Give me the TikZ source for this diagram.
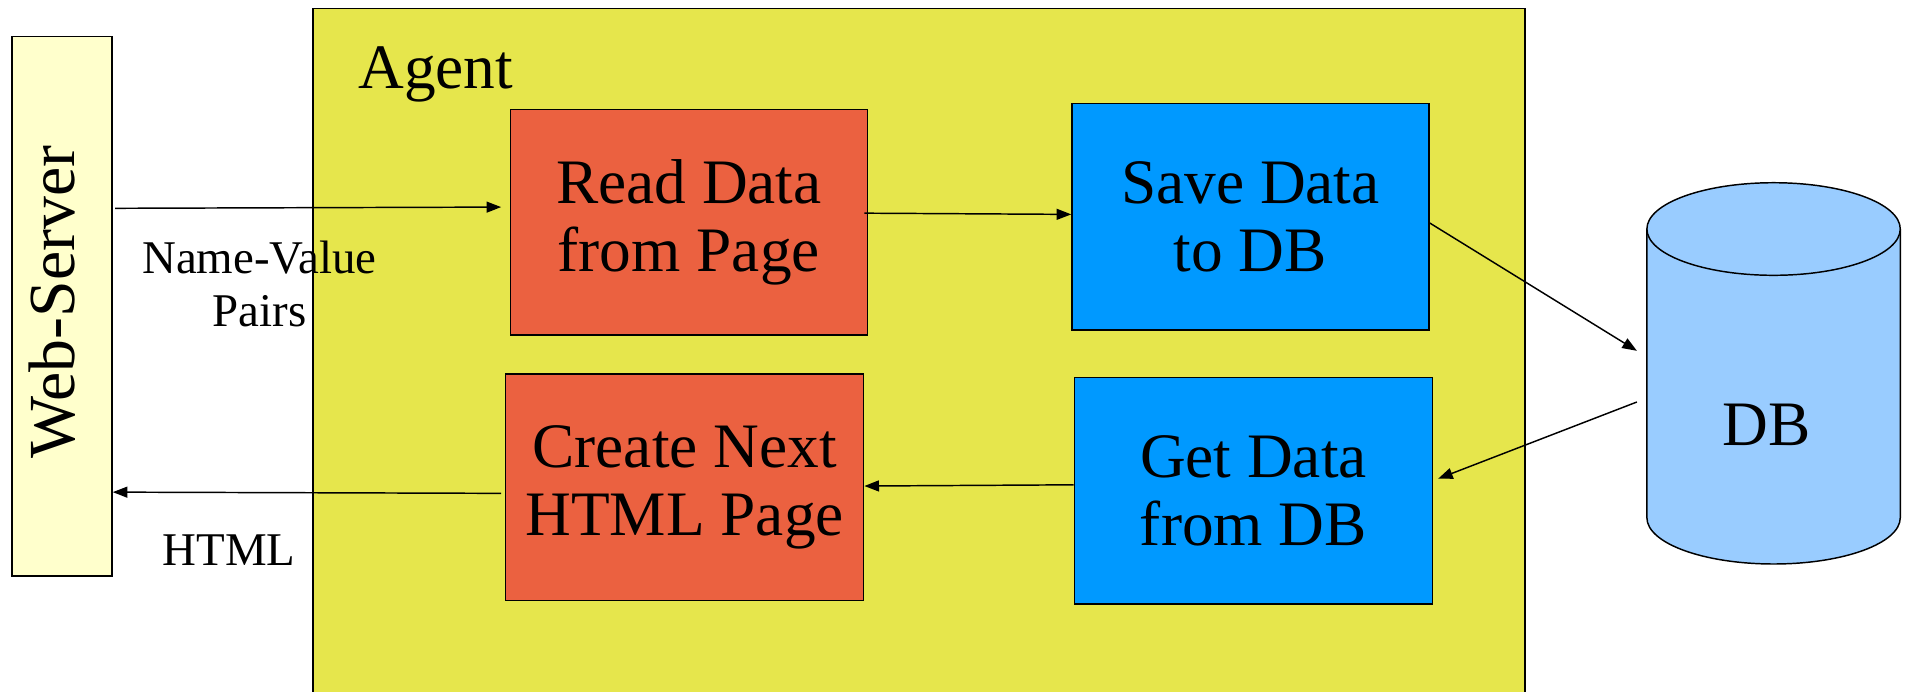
\documentclass[tikz,border=0pt]{standalone}
\usepackage{fontspec}
\setmainfont{Liberation Serif}
\usetikzlibrary{arrows.meta,calc}
\definecolor{agentfill}{RGB}{230,230,76}
\definecolor{serverfill}{RGB}{255,255,204}
\definecolor{pagefill}{RGB}{235,97,64}
\definecolor{dbstepfill}{RGB}{0,153,255}
\definecolor{cylfill}{RGB}{153,204,255}
\tikzset{
  boxtext/.style={font=\fontsize{52}{56}\selectfont, align=center},
  stepbox/.style={draw=black, line width=1.2pt, rectangle, minimum width=293pt, minimum height=186pt, inner sep=0pt, boxtext},
  flow/.style={draw=black, line width=1.2pt, -{Triangle[length=12pt,width=9pt]}},
  flowlabel/.style={font=\fontsize{38.5}{44}\selectfont, align=center}
}
\begin{document}
\begin{tikzpicture}[x=1pt,y=-1pt]
  \clip (0,0) rectangle (1568,568);
  \fill[white] (0,0) rectangle (1568,568);

  % agent container (runs off the bottom edge)
  \draw[fill=agentfill, line width=1.2pt] (257,7) rectangle (1252,590);
  \node[anchor=base west, boxtext, inner sep=0pt] (agent) at (294,73) {Agent};

  % web server
  \node[draw=black, line width=1.2pt, fill=serverfill, minimum width=82pt, minimum height=443pt, inner sep=0pt] (ws) at (51,251.5) {};
  \node[font=\fontsize{54}{58}\selectfont, rotate=90] (wstext) at (43,248) {Web-Server};

  % processing steps
  \node[stepbox, fill=pagefill, minimum width=293pt, minimum height=185pt] (read) at (565.5,182.5) {Read Data\\from Page};
  \node[stepbox, fill=dbstepfill] (save) at (1026.5,178) {Save Data\\to DB};
  \node[stepbox, fill=pagefill, minimum width=294pt] (create) at (562,400) {Create Next\\HTML Page};
  \node[stepbox, fill=dbstepfill, minimum width=294pt] (get) at (1029,403) {Get Data\\from DB};

  % database cylinder
  \fill[cylfill] (1352,188) -- (1352,425) arc[start angle=180, end angle=360, x radius=104pt, y radius=38pt] -- (1560,188) -- cycle;
  \draw[line width=1.2pt] (1352,188) -- (1352,425) arc[start angle=180, end angle=360, x radius=104pt, y radius=38pt] -- (1560,188);
  \draw[fill=cylfill, line width=1.2pt] (1456,188) ellipse[x radius=104pt, y radius=38pt];
  \node[minimum width=208pt, minimum height=313pt, inner sep=0pt] (db) at (1456,306.5) {};
  \node[boxtext] (dbtext) at (1450,349) {DB};

  % connectors
  \draw[flow] ([xshift=2pt, yshift=80.5pt]ws.east) -- ([xshift=-7pt, yshift=12.5pt]read.west);
  \draw[flow] ([xshift=-3pt, yshift=7.5pt]read.east) -- ([yshift=2pt]save.west);
  \draw[flow] ([yshift=-5pt]save.east) -- ([xshift=-8pt, yshift=18.5pt]db.west);
  \draw[flow] ([xshift=-8pt, yshift=-23.5pt]db.west) -- ([xshift=4pt, yshift=10pt]get.east);
  \draw[flow] ([yshift=5pt]get.west) -- ([yshift=1pt]create.east);
  \draw[flow] ([xshift=-3pt, yshift=-5pt]create.west) -- ([yshift=-152.5pt]ws.east);

  % connector labels
  \node[flowlabel] (nvlabel) at (213,233) {Name-Value\\Pairs};
  \node[flowlabel] (htmllabel) at (188,452) {HTML};
\end{tikzpicture}
\end{document}
